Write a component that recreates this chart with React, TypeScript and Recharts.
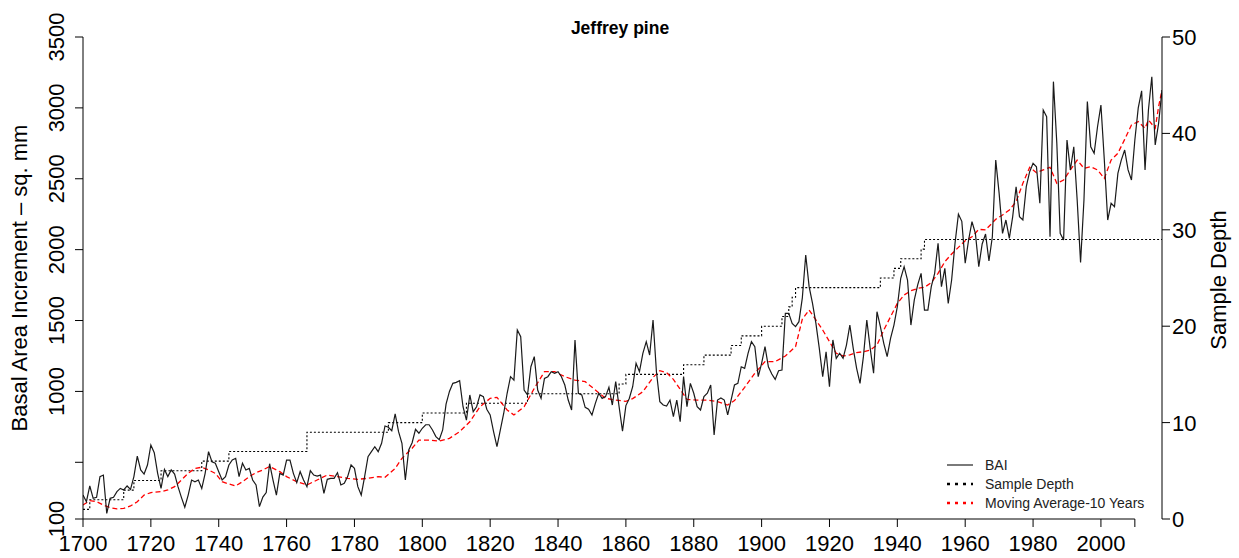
import { LineChart, Line, XAxis, YAxis, ReferenceLine } from 'recharts';

// BAI, one value per year from 1700
const baiStart = 1700;
const baiValues = [
  269, 222, 333, 246, 253, 399, 410, 140, 246, 253,
  293, 316, 305, 333, 309, 399, 544, 446, 417, 481,
  622, 568, 422, 316, 450, 399, 446, 417, 328, 253,
  183, 269, 375, 363, 375, 316, 422, 575, 504, 493,
  434, 375, 399, 481, 516, 528, 399, 493, 446, 457,
  375, 340, 187, 255, 287, 490, 375, 269, 422, 410,
  516, 516, 422, 356, 434, 375, 328, 441, 410, 403,
  410, 281, 380, 387, 387, 427, 340, 352, 399, 481,
  457, 328, 269, 399, 540, 575, 610, 575, 634, 756,
  747, 723, 841, 716, 634, 375, 587, 638, 733, 705,
  740, 765, 765, 728, 681, 660, 728, 910, 1000, 1057,
  1064, 1076, 892, 798, 975, 857, 892, 975, 963, 874,
  834, 716, 610, 728, 846, 987, 1104, 1080, 1433, 1386,
  1010, 975, 1174, 1245, 1010, 951, 1092, 1104, 1139, 1128,
  1139, 1104, 1045, 939, 869, 1363, 987, 975, 888, 874,
  834, 916, 987, 951, 963, 1029, 904, 1069, 892, 720,
  900, 950, 1033, 1198, 1139, 1269, 1351, 1257, 1504, 1139,
  928, 904, 897, 939, 822, 939, 786, 1104, 892, 1057,
  987, 892, 869, 963, 987, 1045, 693, 939, 954, 939,
  834, 939, 1045, 1057, 1174, 1163, 1269, 1351, 1316, 1104,
  1198, 1316, 1174, 1123, 1085, 1146, 1151, 1551, 1551, 1480,
  1457, 1492, 1660, 1962, 1739, 1621, 1480, 1304, 1104, 1280,
  1033, 1363, 1233, 1269, 1233, 1327, 1468, 1304, 1163, 1057,
  1245, 1504, 1304, 1128, 1562, 1457, 1339, 1245, 1374, 1468,
  1598, 1798, 1880, 1786, 1468, 1645, 1751, 1833, 1574, 1574,
  1739, 1833, 2045, 1739, 1868, 1621, 1786, 2045, 2250, 2200,
  1904, 2068, 2197, 2115, 1880, 2040, 2110, 1920, 2091, 2632,
  2397, 2115, 2209, 2080, 2233, 2444, 2233, 2209, 2444, 2550,
  2609, 2585, 2327, 2985, 2938, 2091, 3185, 2750, 2115, 2068,
  2773, 2562, 2726, 2350, 1910, 2350, 3044, 2726, 2680, 2867,
  3020, 2632, 2209, 2327, 2303, 2538, 2632, 2703, 2562, 2491,
  2773, 3000, 3120, 2562, 2985, 3220, 2738, 2891, 3126,
];

// 10-year moving average
const maYears = [
  1700, 1702, 1704, 1706, 1708, 1710, 1712, 1714, 1716, 1718, 1720, 1723, 1725, 1727, 1729,
  1731, 1733, 1735, 1737, 1739, 1741, 1743, 1745, 1747, 1749, 1751, 1753, 1755, 1758, 1760,
  1763, 1766, 1769, 1772, 1775, 1778, 1781, 1784, 1787, 1789, 1792, 1794, 1797, 1799, 1802,
  1805, 1808, 1811, 1814, 1817, 1820, 1822, 1825, 1827, 1830, 1833, 1836, 1839, 1842, 1845,
  1848, 1851, 1854, 1857, 1860, 1862, 1865, 1868, 1870, 1872, 1874, 1876, 1878, 1881, 1884,
  1887, 1890, 1892, 1895, 1898, 1901, 1904, 1907, 1910, 1912, 1914, 1916, 1918, 1920, 1922,
  1924, 1926, 1928, 1930, 1932, 1934, 1936, 1938, 1940, 1942, 1944, 1946, 1948, 1950, 1952,
  1954, 1956, 1958, 1960, 1962, 1964, 1966, 1969, 1971, 1973, 1975, 1977, 1979, 1981, 1983,
  1985, 1987, 1989, 1991, 1993, 1995, 1997, 1999, 2001, 2003, 2005, 2007, 2009, 2011, 2013,
  2014, 2016, 2017, 2018,
];
const maValues = [
  199, 229, 222, 199, 180, 171, 175, 192, 222, 269, 286, 293, 305, 328, 375,
  422, 457, 465, 446, 422, 363, 347, 333, 363, 399, 427, 446, 470, 434, 399,
  363, 340, 375, 410, 399, 387, 380, 387, 399, 394, 457, 528, 599, 657, 657,
  650, 669, 716, 786, 892, 951, 958, 869, 834, 892, 1022, 1139, 1139, 1104, 1080,
  1069, 1010, 951, 939, 930, 949, 998, 1099, 1146, 1132, 1085, 1015, 944, 939, 939,
  928, 904, 935, 1029, 1128, 1210, 1210, 1250, 1316, 1510, 1574, 1504, 1433, 1351, 1269,
  1250, 1257, 1274, 1280, 1292, 1327, 1433, 1527, 1621, 1680, 1710, 1727, 1734, 1767, 1833,
  1915, 1969, 2016, 2063, 2091, 2143, 2139, 2214, 2244, 2280, 2338, 2468, 2581, 2543, 2562,
  2581, 2468, 2491, 2562, 2632, 2574, 2585, 2562, 2503, 2632, 2680, 2778, 2879, 2903, 2856,
  2915, 2856, 3009, 3126,
];

// sample depth, value holds from this year onward
const depthYears = [
  1700, 1702, 1712, 1715, 1723, 1735, 1743, 1766, 1790, 1800, 1813, 1831, 1858, 1860, 1877,
  1883, 1891, 1894, 1900, 1906, 1908, 1909, 1910, 1935, 1939, 1941, 1947, 1948, 2018,
];
const depthValues = [
  1, 2, 3, 4, 5, 6, 7, 9, 10, 11, 12, 13, 14, 15, 16,
  17, 18, 19, 20, 21, 22, 23, 24, 25, 26, 27, 28, 29, 29,
];

const yearTicks = [1700, 1720, 1740, 1760, 1780, 1800, 1820, 1840, 1860, 1880, 1900, 1920, 1940, 1960, 1980, 2000, 2010];
const baiTicks = [100, 500, 1000, 1500, 2000, 2500, 3000, 3500];
const depthTicks = [0, 10, 20, 30, 40, 50];

const baiData = baiValues.map((v, i) => ({ year: baiStart + i, bai: v }));
const maData = maYears.map((y, i) => ({ year: y, ma: maValues[i] }));
const depthData = depthYears.map((y, i) => ({ year: y, depth: depthValues[i] }));

const FONT = 'Arial, "Liberation Sans", sans-serif';

// 2010 only gets a tick mark, its label is dropped like in the original
const XTick = (props: any) => {
  const { x, y, payload } = props;
  if (payload.value === 2010) return <g />;
  return (
    <text x={x} y={y + 22} textAnchor="middle" fontSize={22} fontFamily={FONT} fill="#000">
      {payload.value}
    </text>
  );
};

const LeftTick = (props: any) => {
  const { x, y, payload } = props;
  if (payload.value === 500) return <g />;
  const bx = x - 9;
  return (
    <text x={bx} y={y} transform={`rotate(-90, ${bx}, ${y})`} textAnchor="middle" fontSize={22} fontFamily={FONT} fill="#000">
      {payload.value}
    </text>
  );
};

const RightTick = (props: any) => {
  const { x, y, payload } = props;
  return (
    <text x={x} y={y} dy="0.36em" textAnchor="start" fontSize={22} fontFamily={FONT} fill="#000">
      {payload.value}
    </text>
  );
};

function LegendBox() {
  return (
    <svg width={230} height={62} style={{ position: 'absolute', left: 940, top: 452 }}>
      <line x1={7} x2={33} y1={13} y2={13} stroke="#222" strokeWidth={1.2} />
      <text x={45} y={13} dy="0.36em" fontSize={14} fontFamily={FONT} fill="#222">BAI</text>
      <line x1={7} x2={33} y1={32} y2={32} stroke="#000" strokeWidth={2.5} strokeDasharray="3 5" />
      <text x={45} y={32} dy="0.36em" fontSize={14} fontFamily={FONT} fill="#222">Sample Depth</text>
      <line x1={7} x2={33} y1={51} y2={51} stroke="#ff0000" strokeWidth={2.5} strokeDasharray="3 5" />
      <text x={45} y={51} dy="0.36em" fontSize={14} fontFamily={FONT} fill="#222">Moving Average-10 Years</text>
    </svg>
  );
}

export default function App() {
  return (
    <div style={{ position: 'absolute', left: 0, top: 0, width: 1239, height: 558, background: '#fff', fontFamily: FONT }}>
      <LineChart width={1239} height={558} margin={{ top: 37, right: 0, bottom: 0, left: 0 }}>
        <XAxis
          dataKey="year"
          type="number"
          domain={[1700, 2018]}
          ticks={yearTicks}
          interval={0}
          allowDataOverflow
          height={39}
          tickSize={8}
          axisLine={false}
          tickLine={{ stroke: '#000' }}
          tick={XTick}
        />
        <YAxis
          yAxisId="left"
          domain={[100, 3500]}
          ticks={baiTicks}
          interval={0}
          allowDataOverflow
          width={83}
          tickSize={8}
          axisLine={{ stroke: '#000' }}
          tickLine={{ stroke: '#000' }}
          tick={LeftTick}
        />
        <YAxis
          yAxisId="right"
          orientation="right"
          domain={[0, 50]}
          ticks={depthTicks}
          interval={0}
          width={77}
          tickSize={8}
          axisLine={{ stroke: '#000' }}
          tickLine={{ stroke: '#000' }}
          tick={RightTick}
        />
        <ReferenceLine
          yAxisId="left"
          segment={[{ x: 1700, y: 100 }, { x: 2010, y: 100 }]}
          stroke="#000"
          strokeWidth={1}
        />
        <Line
          yAxisId="right"
          data={depthData}
          dataKey="depth"
          type="stepAfter"
          stroke="#000"
          strokeWidth={1.1}
          strokeDasharray="2 2"
          dot={false}
          activeDot={false}
          isAnimationActive={false}
        />
        <Line
          yAxisId="left"
          data={maData}
          dataKey="ma"
          type="linear"
          stroke="#ff0000"
          strokeWidth={1.3}
          strokeDasharray="5 3"
          dot={false}
          activeDot={false}
          isAnimationActive={false}
        />
        <Line
          yAxisId="left"
          data={baiData}
          dataKey="bai"
          type="linear"
          stroke="#1a1a1a"
          strokeWidth={1.2}
          dot={false}
          activeDot={false}
          isAnimationActive={false}
        />
      </LineChart>
      <LegendBox />
      <div style={{ position: 'absolute', left: 620, top: 28, transform: 'translate(-50%, -50%)', fontSize: 17.5, fontWeight: 'bold', whiteSpace: 'nowrap' }}>
        Jeffrey pine
      </div>
      <div style={{ position: 'absolute', left: 20, top: 278, transform: 'translate(-50%, -50%) rotate(-90deg)', fontSize: 22, whiteSpace: 'nowrap' }}>
        Basal Area Increment – sq. mm
      </div>
      <div style={{ position: 'absolute', left: 1219, top: 280, transform: 'translate(-50%, -50%) rotate(-90deg)', fontSize: 22, whiteSpace: 'nowrap' }}>
        Sample Depth
      </div>
    </div>
  );
}
